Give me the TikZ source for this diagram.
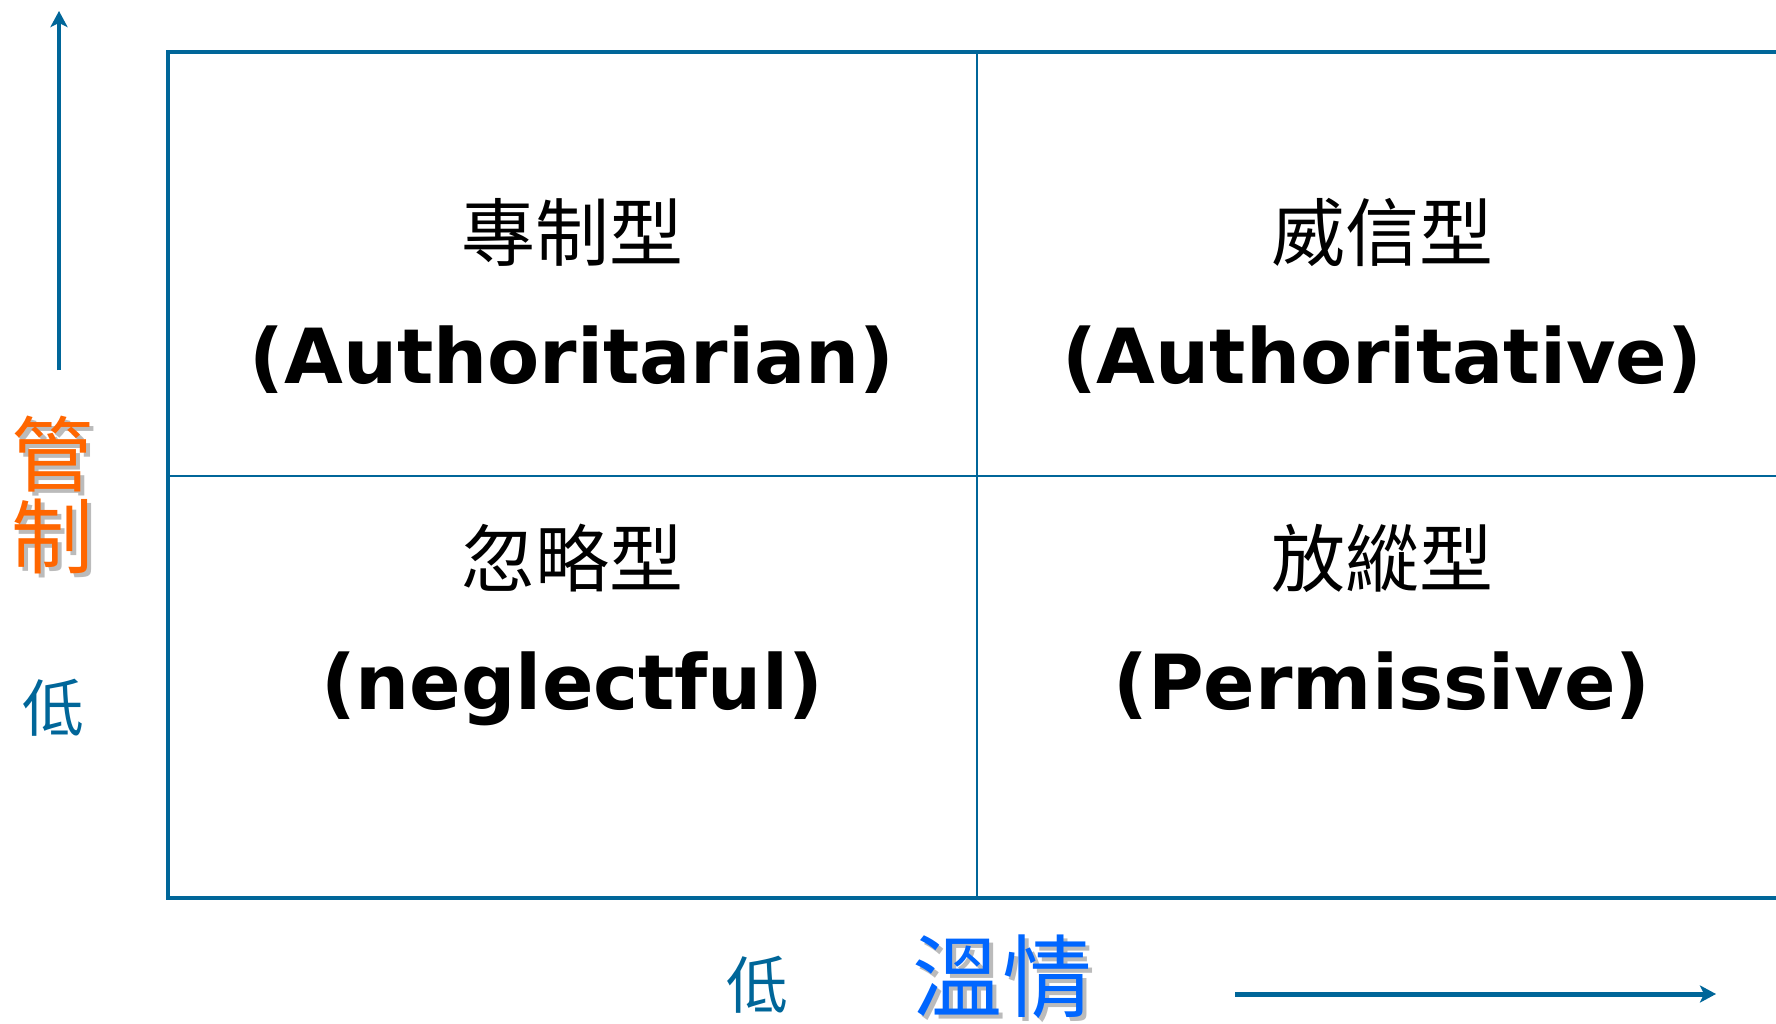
\documentclass[tikz,border=0pt]{standalone}
\usepackage{fontspec}
\setmainfont{DejaVu Sans}
\newfontfamily\cjk{Noto Sans CJK TC}
\usetikzlibrary{arrows.meta}
\definecolor{axisblue}{HTML}{006699}
\definecolor{ctrlorange}{HTML}{FF6600}
\definecolor{warmblue}{HTML}{0066FF}
\definecolor{shadowgray}{HTML}{BBBBBB}
\tikzset{
  frame/.style={draw=axisblue, line width=4.5pt},
  divider/.style={draw=axisblue, line width=2.3pt},
  cjklabel/.style={inner sep=0pt, font=\cjk\fontsize{74}{84}\selectfont},
  englabel/.style={inner sep=0pt, anchor=base, font=\fontsize{76}{90}\selectfont\bfseries},
  lowlabel/.style={inner sep=0pt, text=axisblue, font=\cjk\fontsize{62}{70}\selectfont},
  axisarrow/.style={draw=axisblue, -{Stealth[length=16pt,width=17pt,inset=4pt]}},
}
\begin{document}
\begin{tikzpicture}[x=1pt,y=-1pt]
\useasboundingbox (0,0) rectangle (1776,1024);
\fill[white] (0,0) rectangle (1776,1024);

% frame (open on the right)
\draw[frame] (1780,52) -- (168,52) -- (168,898) -- (1780,898);
\draw[divider] (977,52) -- (977,898);
\draw[divider] (168,476) -- (1780,476);

% quadrant labels
\node[cjklabel] (q1c) at (572,232) {專制型};
\node[englabel] (q1e) at (572,383) {(Authoritarian)};
\node[cjklabel] (q2c) at (1382,232) {威信型};
\node[englabel] (q2e) at (1382,383) {(Authoritative)};
\node[cjklabel] (q3c) at (572,558) {忽略型};
\node[englabel] (q3e) at (572,709) {(neglectful)};
\node[cjklabel] (q4c) at (1382,558) {放縱型};
\node[englabel] (q4e) at (1382,709) {(Permissive)};

% vertical axis
\coordinate (vstart) at (59,370);
\coordinate (vend) at (59,11);
\draw[axisarrow, line width=4pt] (vstart) -- (vend);
\node[inner sep=0pt, text=shadowgray, align=center, font=\cjk\fontsize{82}{82}\selectfont] (ctrlshadow) at (57,499) {管\\制};
\node[inner sep=0pt, text=ctrlorange, align=center, font=\cjk\fontsize{82}{82}\selectfont] (ctrl) at (52,495) {管\\制};
\node[lowlabel] (lowv) at (53,708) {低};

% horizontal axis
\node[lowlabel] (lowh) at (757,985) {低};
\node[inner sep=0pt, text=shadowgray, font=\cjk\fontsize{90}{90}\selectfont] (warmshadow) at (1006,981) {溫情};
\node[inner sep=0pt, text=warmblue, font=\cjk\fontsize{90}{90}\selectfont] (warm) at (1002,977) {溫情};
\coordinate (hstart) at (1235,994);
\coordinate (hend) at (1716,994);
\draw[axisarrow, line width=5pt] (hstart) -- (hend);
\end{tikzpicture}
\end{document}
